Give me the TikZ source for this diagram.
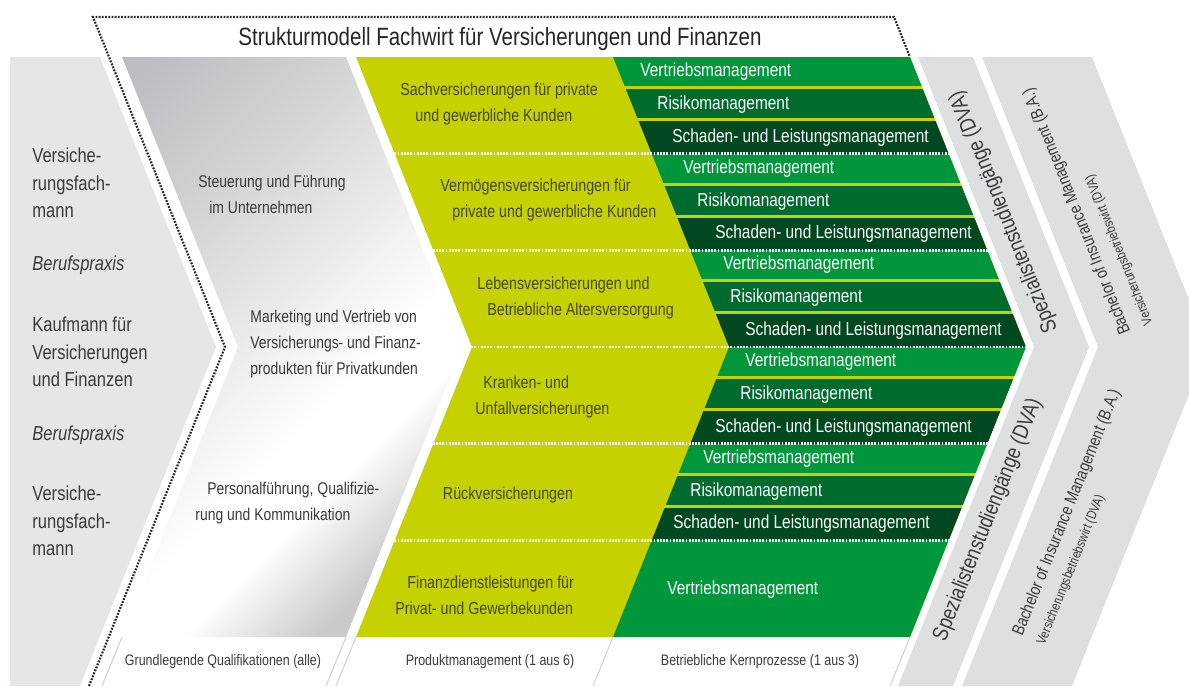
\documentclass[tikz,border=0pt]{standalone}
\usepackage{fontspec}
\setmainfont{Liberation Sans}[FakeStretch=0.82]

\definecolor{panelgrey}{HTML}{E5E6E7}
\definecolor{bandgrey}{HTML}{DEDFE0}
\definecolor{shadeA}{HTML}{BBBDC0}
\definecolor{shadeB}{HTML}{D2D3D5}
\definecolor{shadeW}{HTML}{EDEDEE}
\definecolor{shadeC}{HTML}{C9CACC}
\definecolor{leaf}{HTML}{C6D200}
\definecolor{greenA}{HTML}{00963C}
\definecolor{greenB}{HTML}{006B2F}
\definecolor{greenC}{HTML}{00481F}
\definecolor{inkgrey}{HTML}{3B3B3B}
\definecolor{inkolive}{HTML}{45452B}
\definecolor{rulegrey}{HTML}{D0D1D3}

% light band running diagonally through the qualifications column
\pgfdeclarehorizontalshading{panelfade}{100bp}{color(0bp)=(shadeA); color(28bp)=(shadeA); color(38bp)=(shadeB); color(48bp)=(shadeW); color(55bp)=(white); color(59bp)=(white); color(66bp)=(shadeC); color(100bp)=(shadeC)}

\tikzset{
  frameline/.style={black!85, line width=1.1pt, dash pattern=on 0.9pt off 0.7pt},
  blocksep/.style={white, line width=1.2pt, dash pattern=on 0.9pt off 0.7pt},
  edgeline/.style={rulegrey, line width=0.5pt},
  titletext/.style={text=black!85, inner sep=0pt, anchor=base, font=\fontsize{12.5}{15}\selectfont},
  lefttext/.style={text=inkgrey, inner sep=0pt, anchor=west, align=left, font=\fontsize{10.1}{13.8}\selectfont},
  fadetext/.style={text=inkgrey, inner sep=0pt, anchor=west, align=left, font=\fontsize{8.5}{13}\selectfont},
  leaftext/.style={text=inkolive, inner sep=0pt, anchor=west, align=left, font=\fontsize{8.7}{12.8}\selectfont},
  coretext/.style={text=white, inner sep=0pt, anchor=west, font=\fontsize{9.4}{11}\selectfont},
  bandtext/.style={text=inkgrey, inner sep=0pt, font=\fontsize{11}{13}\selectfont},
  degreetext/.style={text=inkgrey, inner sep=0pt, align=left, font=\fontsize{8.6}{9.5}\selectfont},
  foottext/.style={text=inkgrey, inner sep=0pt, font=\fontsize{7.6}{9}\selectfont},
}

\begin{document}
\begin{tikzpicture}[x=0.5pt, y=-0.5pt]
\useasboundingbox (0,0) rectangle (1189,686);

\begin{scope}
  \clip (0,0) rectangle (1189,686);
  % entry qualifications
  \fill[panelgrey] (10,57) -- (100,57) -- (216,347) -- (80,686) -- (10,686) -- cycle;
  % basic qualifications column
  \begin{scope}
    \clip (122,57) -- (346,57) -- (462,347) -- (346,637) -- (122,637) -- (238,347) -- cycle;
    \shade[shading=panelfade, shading angle=-45] (-58,-3) rectangle (642,697);
  \end{scope}
  % product column
  \fill[leaf] (356,57) -- (910,57) -- (1026,347) -- (910,637) -- (356,637) -- (472,347) -- cycle;
  % core process rows
  \begin{scope}
    \clip (613,57) -- (910,57) -- (1026,347) -- (910,637) -- (613,637) -- (729,347) -- cycle;
    \foreach \t in {57,153.667,250.333,347,443.667}{
      \fill[greenA] (600,\t) rectangle (1040,\t+29);
      \fill[greenB] (600,\t+32) rectangle (1040,\t+61);
      \fill[greenC] (600,\t+64) rectangle (1040,\t+96.667);
    }
    \fill[greenA] (600,540.333) rectangle (1040,637);
  \end{scope}
  % block separators
  \begin{scope}
    \clip (356,57) -- (910,57) -- (1026,347) -- (910,637) -- (356,637) -- (472,347) -- cycle;
    \foreach \y in {153.667,250.333,347,443.667,540.333}
      \draw[blocksep] (340,\y) -- (1040,\y);
  \end{scope}
  % study programme bands
  \fill[bandgrey] (918,57) -- (973,57) -- (1089,347) -- (953,686) -- (898,686) -- (1034,347) -- cycle;
  \fill[bandgrey] (982,57) -- (1092,57) -- (1208,347) -- (1072,686) -- (962,686) -- (1098,347) -- cycle;
\end{scope}

% footer rules
\draw[edgeline] (122,637) -- (102,686);
\draw[edgeline] (346,637) -- (326,686);
\draw[edgeline] (356,637) -- (336,686);
\draw[edgeline] (613,637) -- (593,686);
\draw[edgeline] (910,637) -- (890,686);

% dotted frame of the model
\draw[frameline] (89,686) -- (225,347) -- (93,17) -- (894,17) -- (910,57);

\node[titletext] (title) at (500,45) {Strukturmodell Fachwirt für Versicherungen und Finanzen};

% entry column
\node[lefttext] (lp1) at (32,183) {Versiche-\\rungsfach-\\mann};
\node[lefttext] (lp2) at (32,265) {\itshape Berufspraxis};
\node[lefttext] (lp3) at (32,352) {Kaufmann für\\Versicherungen\\und Finanzen};
\node[lefttext] (lp4) at (32,435) {\itshape Berufspraxis};
\node[lefttext] (lp5) at (32,521) {Versiche-\\rungsfach-\\mann};

% basic qualifications
\node[fadetext] (q1) at (198,194) {Steuerung und Führung\\\hspace*{5.5pt}im Unternehmen};
\node[fadetext] (q2) at (250,344) {Marketing und Vertrieb von\\Versicherungs- und Finanz-\\produkten für Privatkunden};
\node[fadetext] (q3) at (195,503) {\hspace*{6pt}Personalführung, Qualifizie-\\rung und Kommunikation};

% product management
\node[leaftext] (p1) at (400,104) {Sachversicherungen für private\\\hspace*{7.5pt}und gewerbliche Kunden};
\node[leaftext] (p2) at (440,200) {Vermögensversicherungen für\\\hspace*{6pt}private und gewerbliche Kunden};
\node[leaftext] (p3) at (477,298) {Lebensversicherungen und\\\hspace*{5pt}Betriebliche Altersversorgung};
\node[leaftext] (p4) at (475,397) {\hspace*{4pt}Kranken- und\\Unfallversicherungen};
\node[leaftext, anchor=center] (p5) at (508,495) {Rückversicherungen};
\node[leaftext] (p6) at (395,595) {\hspace*{6pt}Finanzdienstleistungen für\\Privat- und Gewerbekunden};

% core processes
\node[coretext] (c11) at (640,71.5) {Vertriebsmanagement};
\node[coretext] (c12) at (657,104.5) {Risikomanagement};
\node[coretext] (c13) at (672,137.3) {Schaden- und Leistungsmanagement};
\node[coretext] (c21) at (683,168.2) {Vertriebsmanagement};
\node[coretext] (c22) at (697,201.2) {Risikomanagement};
\node[coretext] (c23) at (715,234) {Schaden- und Leistungsmanagement};
\node[coretext] (c31) at (723,264.8) {Vertriebsmanagement};
\node[coretext] (c32) at (730,297.8) {Risikomanagement};
\node[coretext] (c33) at (745,330.7) {Schaden- und Leistungsmanagement};
\node[coretext] (c41) at (745,361.5) {Vertriebsmanagement};
\node[coretext] (c42) at (740,394.5) {Risikomanagement};
\node[coretext] (c43) at (715,427.3) {Schaden- und Leistungsmanagement};
\node[coretext] (c51) at (703,458.2) {Vertriebsmanagement};
\node[coretext] (c52) at (690,491.2) {Risikomanagement};
\node[coretext] (c53) at (673,524) {Schaden- und Leistungsmanagement};
\node[coretext] (c61) at (667,590) {Vertriebsmanagement};

% study programmes
\node[bandtext, rotate=111.8] (s1) at (1004,212) {Spezialistenstudiengänge (DVA)};
\node[bandtext, rotate=68.2] (s2) at (988,520) {Spezialistenstudiengänge (DVA)};
\node[degreetext, rotate=111.8] (b1) at (1088,207) {Bachelor of Insurance Management (B.A.)\\[2.5pt]{\fontsize{6.8}{8.5}\selectfont Versicherungsbetriebswirt (DVA)}};
\node[degreetext, rotate=68.2] (b2) at (1078,517) {Bachelor of Insurance Management (B.A.)\\[2.5pt]{\fontsize{6.8}{8.5}\selectfont Versicherungsbetriebswirt (DVA)}};

% column captions
\node[foottext] (f1) at (223,662) {Grundlegende Qualifikationen (alle)};
\node[foottext] (f2) at (490,662) {Produktmanagement (1 aus 6)};
\node[foottext] (f3) at (760,662) {Betriebliche Kernprozesse (1 aus 3)};
\end{tikzpicture}
\end{document}
